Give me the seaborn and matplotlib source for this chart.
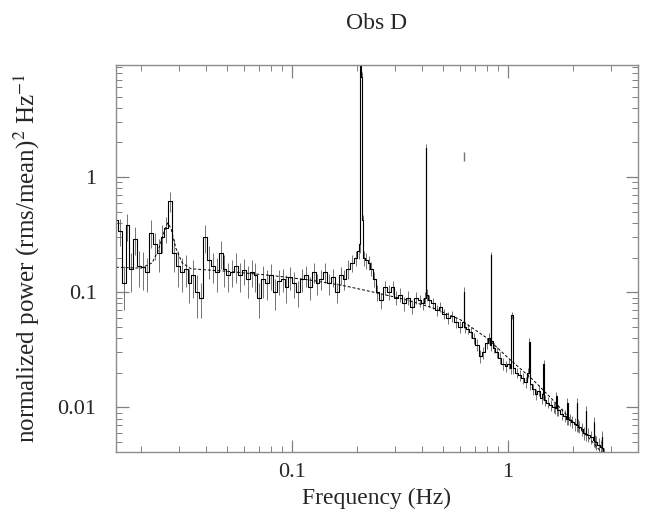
import numpy as np
import pandas as pd
import matplotlib
matplotlib.use("Agg")
import matplotlib.pyplot as plt
import matplotlib.ticker as ticker
import seaborn as sns

# Спектр мощности (частоты бинов, мощность, ошибки)
freq = [
    0.0153, 0.0159, 0.0166, 0.0173, 0.0180, 0.0188, 0.0196, 0.0204, 0.0213, 0.0222,
    0.0231, 0.0241, 0.0251, 0.0262, 0.0273, 0.0284, 0.0296, 0.0309, 0.0322, 0.0335,
    0.0349, 0.0364, 0.0380, 0.0396, 0.0412, 0.0430, 0.0448, 0.0467, 0.0486, 0.0507,
    0.0528, 0.0551, 0.0574, 0.0598, 0.0623, 0.0650, 0.0677, 0.0706, 0.0735, 0.0766,
    0.0799, 0.0832, 0.0867, 0.0904, 0.0942, 0.0982, 0.1023, 0.1066, 0.1111, 0.1158,
    0.1207, 0.1258, 0.1311, 0.1366, 0.1423, 0.1483, 0.1546, 0.1611, 0.1679, 0.1749,
    0.1823, 0.1900, 0.1980, 0.2040, 0.2060, 0.2080, 0.2100, 0.2125, 0.2160, 0.2210,
    0.2270, 0.2330, 0.2400, 0.2480, 0.2580, 0.2690, 0.2800, 0.2920, 0.3040, 0.3170,
    0.3300, 0.3440, 0.3590, 0.3740, 0.3900, 0.4050, 0.4150, 0.4180, 0.4210, 0.4300,
    0.4480, 0.4670, 0.4870, 0.5080, 0.5300, 0.5530, 0.5770, 0.6020, 0.6240, 0.6270,
    0.6300, 0.6500, 0.6720, 0.6950, 0.7190, 0.7440, 0.7700, 0.7960, 0.8200, 0.8340,
    0.8360, 0.8380, 0.8600, 0.8880, 0.9180, 0.9480, 0.9800, 1.0100, 1.0300, 1.0450,
    1.0600, 1.0960, 1.1330, 1.1720, 1.2100, 1.2400, 1.2540, 1.2700, 1.3100, 1.3500,
    1.3900, 1.4300, 1.4550, 1.4630, 1.4700, 1.4800, 1.5300, 1.5800, 1.6300, 1.6600, 1.6720, 1.6850,
    1.7100, 1.7700, 1.8300, 1.8700, 1.8810, 1.8950, 1.9300, 1.9900, 2.0500, 2.0800, 2.0900, 2.1000,
    2.1400, 2.2100, 2.2600, 2.2900, 2.3000, 2.3100, 2.3500, 2.4300, 2.5000, 2.5100, 2.5200, 2.5500,
    2.6300, 2.7100, 2.7200, 2.7300, 2.7800,
]
power = [
    0.42, 0.34, 0.12, 0.38, 0.16, 0.29, 0.17, 0.165, 0.15, 0.33,
    0.26, 0.22, 0.30, 0.36, 0.62, 0.22, 0.17, 0.15, 0.16, 0.12,
    0.14, 0.10, 0.09, 0.30, 0.19, 0.17, 0.15, 0.22, 0.16, 0.14,
    0.15, 0.17, 0.14, 0.155, 0.13, 0.15, 0.14, 0.09, 0.13, 0.12,
    0.14, 0.10, 0.125, 0.13, 0.11, 0.135, 0.12, 0.10, 0.13, 0.14,
    0.11, 0.15, 0.12, 0.13, 0.15, 0.12, 0.135, 0.10, 0.14, 0.13,
    0.16, 0.18, 0.20, 0.23, 0.26, 25.0, 7.4, 0.42, 0.20, 0.19,
    0.18, 0.16, 0.13, 0.10, 0.085, 0.11, 0.10, 0.11, 0.09, 0.095,
    0.08, 0.09, 0.075, 0.09, 0.085, 0.08, 0.09, 1.78, 0.095, 0.085,
    0.08, 0.07, 0.075, 0.065, 0.06, 0.062, 0.055, 0.05, 0.055, 0.10,
    0.05, 0.048, 0.045, 0.04, 0.035, 0.028, 0.03, 0.036, 0.04, 0.035,
    0.21, 0.038, 0.033, 0.03, 0.027, 0.024, 0.023, 0.024, 0.022, 0.063,
    0.022, 0.02, 0.019, 0.018, 0.0165, 0.02, 0.037, 0.016, 0.0145, 0.013,
    0.014, 0.012, 0.013, 0.024, 0.022, 0.0115, 0.011, 0.0105, 0.01, 0.0098, 0.0125, 0.0095,
    0.0095, 0.0088, 0.0085, 0.008, 0.011, 0.008, 0.0078, 0.0075, 0.0072, 0.007, 0.011, 0.007,
    0.0068, 0.0065, 0.006, 0.006, 0.0094, 0.0059, 0.0058, 0.0055, 0.0052, 0.0074, 0.0051, 0.005,
    0.0047, 0.0045, 0.0055, 0.0044, 0.0038,
]
power_err = [
    0.10, 0.09, 0.05, 0.10, 0.06, 0.08, 0.06, 0.06, 0.05, 0.09,
    0.07, 0.07, 0.08, 0.09, 0.12, 0.07, 0.06, 0.05, 0.05, 0.04,
    0.05, 0.04, 0.03, 0.08, 0.06, 0.05, 0.05, 0.06, 0.05, 0.04,
    0.04, 0.05, 0.04, 0.04, 0.04, 0.04, 0.04, 0.03, 0.04, 0.035,
    0.035, 0.03, 0.03, 0.03, 0.03, 0.03, 0.03, 0.025, 0.03, 0.03,
    0.025, 0.03, 0.025, 0.025, 0.03, 0.025, 0.025, 0.02, 0.025, 0.025,
    0.03, 0.03, 0.03, 0.035, 0.04, 2.0, 0.8, 0.05, 0.03, 0.03,
    0.025, 0.022, 0.02, 0.016, 0.014, 0.016, 0.015, 0.015, 0.013, 0.013,
    0.011, 0.012, 0.01, 0.011, 0.01, 0.01, 0.011, 0.15, 0.011, 0.01,
    0.009, 0.008, 0.008, 0.007, 0.007, 0.007, 0.006, 0.006, 0.006, 0.01,
    0.0055, 0.005, 0.005, 0.0045, 0.004, 0.0035, 0.0035, 0.004, 0.0045, 0.004,
    0.015, 0.004, 0.0035, 0.0032, 0.003, 0.0027, 0.0025, 0.0025, 0.0024, 0.005,
    0.0023, 0.0021, 0.002, 0.0019, 0.0018, 0.002, 0.003, 0.0017, 0.0016, 0.0015,
    0.0015, 0.0013, 0.0014, 0.002, 0.002, 0.0012, 0.0012, 0.0011, 0.0011, 0.0011, 0.0012, 0.0011,
    0.001, 0.001, 0.001, 0.0009, 0.001, 0.0009, 0.0009, 0.0009, 0.0009, 0.0009, 0.001, 0.0009,
    0.0008, 0.0008, 0.0008, 0.0008, 0.0009, 0.0008, 0.0008, 0.0007, 0.0007, 0.0008, 0.0007, 0.0007,
    0.0007, 0.0007, 0.0007, 0.0006, 0.0006,
]

# Отдельная точка (только планка ошибок) около 0.63 Гц
lone_freq = [0.628]
lone_power = [1.52]
lone_err = [0.13]

# Модель
model_freq = [0.0153, 0.0200, 0.0225, 0.0240, 0.0255, 0.0265, 0.0275, 0.0290, 0.0310,
              0.0340, 0.050, 0.080, 0.120, 0.170, 0.240, 0.330, 0.450, 0.600, 0.800,
              1.00, 1.30, 1.60, 2.00, 2.40, 2.80]
model_power = [0.165, 0.162, 0.18, 0.23, 0.33, 0.40, 0.36, 0.24, 0.18,
               0.16, 0.152, 0.14, 0.128, 0.115, 0.10, 0.087, 0.073, 0.058, 0.040,
               0.027, 0.0175, 0.0118, 0.0075, 0.0053, 0.0038]

spec = pd.DataFrame({"freq": freq, "power": power, "err": power_err})
model = pd.DataFrame({"freq": model_freq, "power": model_power})

sns.set_style("ticks")
plt.rcParams["font.family"] = ["Liberation Serif", "DejaVu Serif"]
plt.rcParams["mathtext.fontset"] = "stix"

fig = plt.figure(figsize=(6.49, 5.14), dpi=100)
ax = fig.add_axes([0.1787, 0.1206, 0.8043, 0.7529])

lo = np.clip(spec["power"] - spec["err"], 1e-4, None)
hi = spec["power"] + spec["err"]
ax.vlines(spec["freq"], lo, hi, color="0.45", lw=0.7)
ax.vlines(lone_freq, np.array(lone_power) - lone_err, np.array(lone_power) + lone_err,
          color="0.45", lw=1.0)

sns.lineplot(data=spec, x="freq", y="power", ax=ax, drawstyle="steps-mid",
             color="black", lw=0.8, estimator=None, sort=False)
sns.lineplot(data=model, x="freq", y="power", ax=ax, color="black", lw=0.7,
             linestyle=(0, (3, 2)), estimator=None, sort=False)

ax.set_xscale("log")
ax.set_yscale("log")
ax.set_xlim(0.0153, 4.0)
ax.set_ylim(0.0041, 9.4)

fmt = ticker.FuncFormatter(lambda v, p: f"{v:g}")
for axis in (ax.xaxis, ax.yaxis):
    axis.set_major_locator(ticker.LogLocator(base=10))
    axis.set_minor_locator(ticker.LogLocator(base=10, subs=np.arange(2, 10)))
    axis.set_major_formatter(fmt)
    axis.set_minor_formatter(ticker.NullFormatter())

ax.tick_params(which="both", direction="in", top=True, right=True, color="0.5",
               labelsize=16)
ax.tick_params(which="major", length=9, width=0.9)
ax.tick_params(which="minor", length=4.5, width=0.7)
ax.tick_params(axis="x", pad=8)
ax.tick_params(axis="y", pad=14)
for s in ax.spines.values():
    s.set_color("0.55")
    s.set_linewidth(1.0)

ax.set_title("Obs D", fontsize=17, pad=26)
ax.set_xlabel("Frequency (Hz)", fontsize=17, labelpad=4)
ax.set_ylabel(r"normalized power (rms/mean)$^2$ Hz$^{-1}$", fontsize=18, labelpad=11)

fig.savefig("out.png", dpi=100)
